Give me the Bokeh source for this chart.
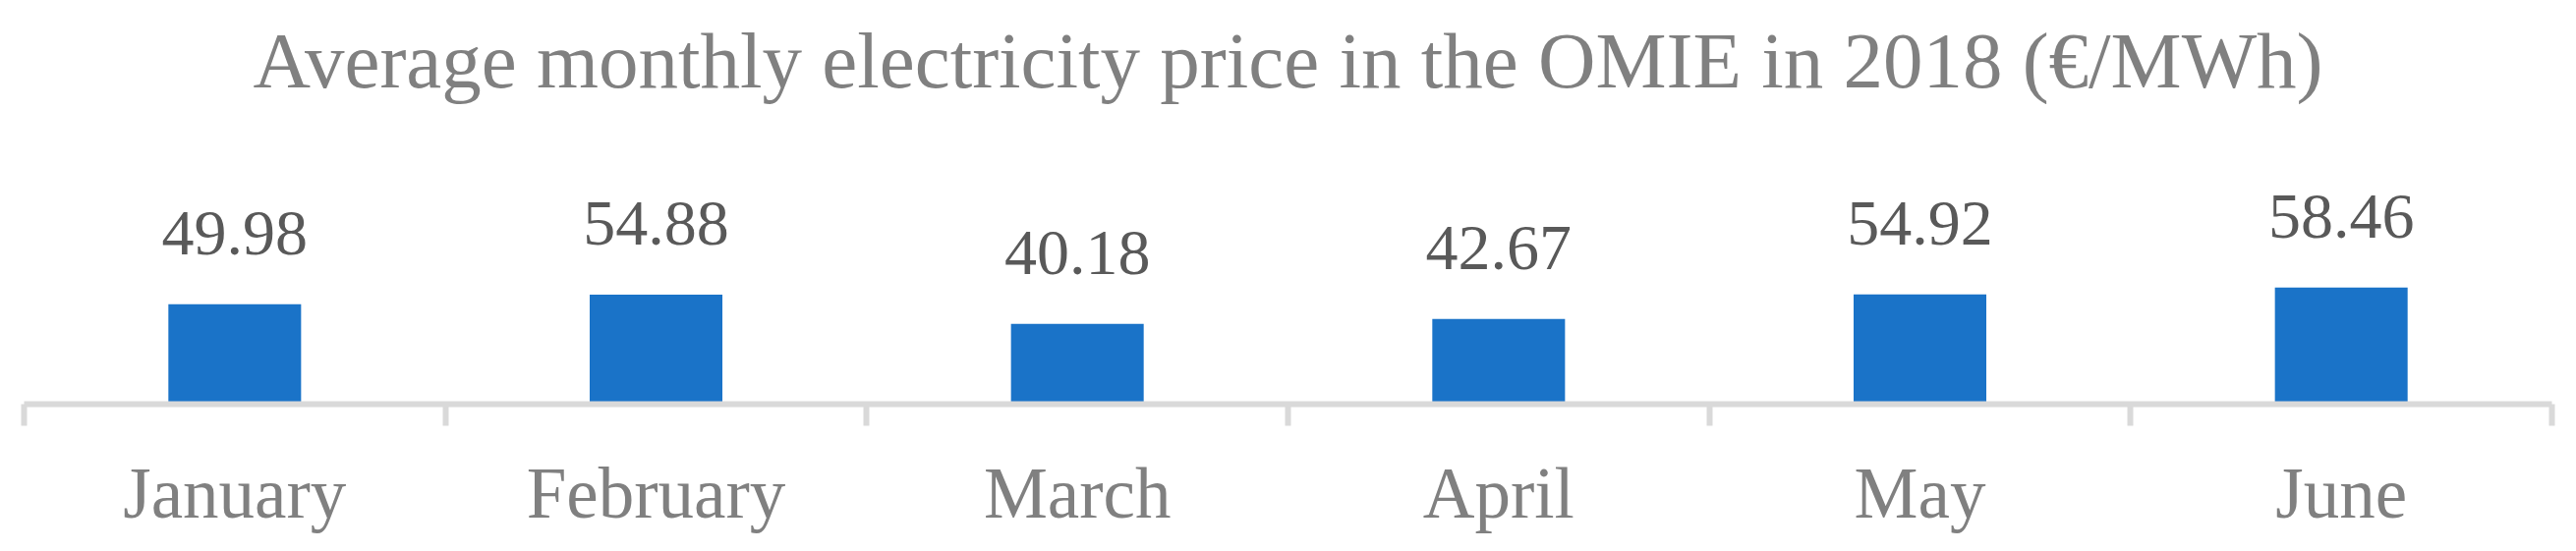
from bokeh.plotting import figure
from bokeh.models import ColumnDataSource, FixedTicker, Range1d, LinearAxis, Title
from bokeh.core.properties import value
from bokeh.embed import file_html
from bokeh.resources import INLINE

months = ["January", "February", "March", "April", "May", "June"]
prices = [49.98, 54.88, 40.18, 42.67, 54.92, 58.46]
labels = ["49.98", "54.88", "40.18", "42.67", "54.92", "58.46"]
title_text = "Average monthly electricity price in the OMIE in 2018 (€/MWh)"

FONT = "Liberation Serif"
centers = [i + 0.5 for i in range(len(months))]
src = ColumnDataSource(dict(x=centers, y=prices, lab=labels))

W, H = 2605, 545
y_end = 150

p = figure(width=W, height=H, output_backend="svg", toolbar_location=None,
           x_range=Range1d(0, len(months)), y_range=Range1d(0, y_end),
           min_border_left=24, min_border_right=9, min_border_top=0,
           min_border_bottom=0, x_axis_location=None, y_axis_location=None)
p.outline_line_color = None
p.grid.visible = False
p.background_fill_color = "white"
p.border_fill_color = "white"

# main title (closest to the frame)
main_title = Title(text=title_text, text_font=FONT, text_font_size="81px",
                   text_font_style="normal", text_color="#808080",
                   align="center", standoff=0, offset=6)
p.add_layout(main_title, "above")
# small spacer above the title
p.title.text = " "
p.title.text_font_size = "11px"
p.title.standoff = 0

p.vbar(x="x", top="y", width=0.315, source=src, fill_color="#1A73C8", line_color=None)
p.text(x="x", y="y", text="lab", source=src, text_align="center",
       text_baseline="alphabetic", y_offset=-72, text_font=value(FONT),
       text_font_size="66px", text_color="#595959")

ax = LinearAxis(ticker=FixedTicker(ticks=centers, minor_ticks=list(range(len(months) + 1))))
ax.major_label_overrides = {c: m for c, m in zip(centers, months)}
ax.axis_line_color = "#D9D9D9"
ax.axis_line_width = 6
ax.major_tick_line_color = None
ax.major_tick_out = 0
ax.major_tick_in = 0
ax.minor_tick_line_color = "#D9D9D9"
ax.minor_tick_line_width = 6
ax.minor_tick_out = 22
ax.minor_tick_in = 0
ax.major_label_standoff = 28
ax.major_label_text_font = FONT
ax.major_label_text_font_size = "73px"
ax.major_label_text_color = "#808080"
p.add_layout(ax, "below")

open("out.html", "w").write(file_html(p, INLINE))
